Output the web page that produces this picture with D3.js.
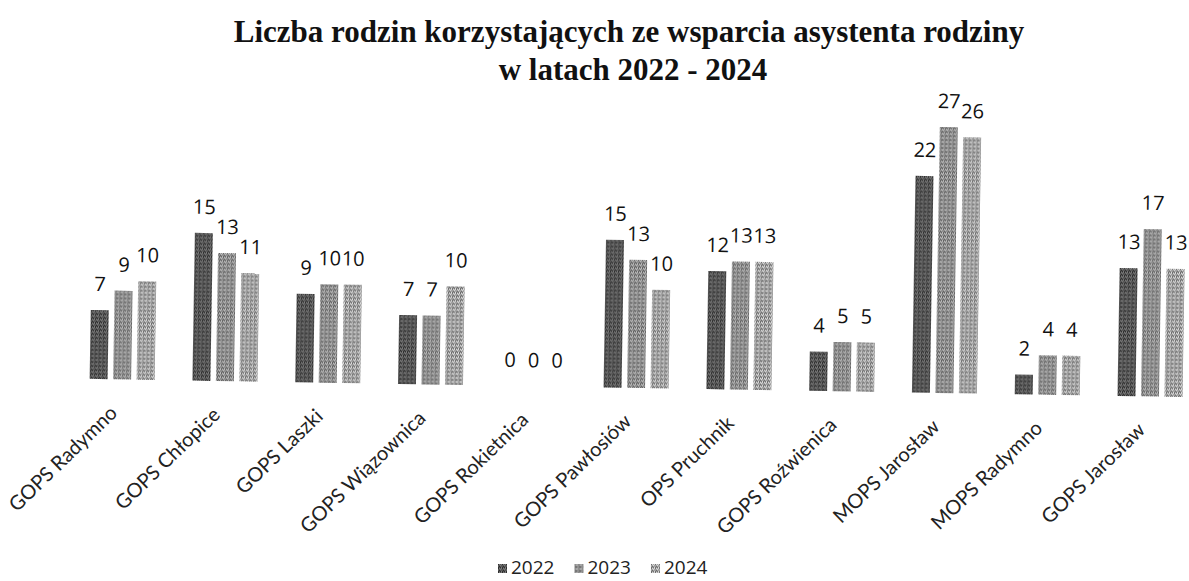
<!DOCTYPE html>
<html>
<head>
<meta charset="utf-8">
<script src="https://cdn.jsdelivr.net/npm/d3@7"></script>
<style>
  html, body { margin: 0; padding: 0; background: #fff; }
  svg { display: block; }
</style>
</head>
<body>
<svg id="chart" width="1189" height="581"></svg>
<script>
// ---- data ----
const categories = ["GOPS Radymno", "GOPS Chłopice", "GOPS Laszki", "GOPS Wiązownica", "GOPS Rokietnica",
  "GOPS Pawłosiów", "OPS Pruchnik", "GOPS Roźwienica", "MOPS Jarosław", "MOPS Radymno", "GOPS Jarosław"];
const seriesNames = ["2022", "2023", "2024"];
const values2022 = [7, 15, 9, 7, 0, 15, 12, 4, 22, 2, 13];
const values2023 = [9, 13, 10, 7, 0, 13, 13, 5, 27, 4, 17];
const values2024 = [10, 11, 10, 10, 0, 10, 13, 5, 26, 4, 13];
const titleLines = ["Liczba rodzin korzystających ze wsparcia asystenta rodziny", "w latach 2022 - 2024"];

const seriesValues = [values2022, values2023, values2024];
const W = 1189, H = 581;
const svg = d3.select("#chart");
svg.append("rect").attr("width", W).attr("height", H).attr("fill", "#fff");

// dithered-looking fills
const defs = svg.append("defs");
const patternSpecs = [
  { id: "p2022", base: "#575757", dark: "#2e2e2e", light: "#7a7a7a" },
  { id: "p2023", base: "#8e8e8e", dark: "#606060", light: "#bdbdbd" },
  { id: "p2024", base: "#a0a0a0", dark: "#6a6a6a", light: "#dcdcdc" }
];
const dots = [[0,0,"dark"],[2,1,"light"],[1,2,"dark"],[3,3,"light"],[3,0,"light"],[0,3,"dark"],[2,3,"dark"],[1,0,"light"]];
patternSpecs.forEach(p => {
  const pat = defs.append("pattern").attr("id", p.id).attr("patternUnits", "userSpaceOnUse")
    .attr("width", 4).attr("height", 4);
  pat.append("rect").attr("width", 4).attr("height", 4).attr("fill", p.base);
  dots.forEach(d => pat.append("rect").attr("x", d[0]).attr("y", d[1]).attr("width", 1).attr("height", 1)
    .attr("fill", p[d[2]]));
});
const fills = d3.scaleOrdinal().domain(seriesNames).range(patternSpecs.map(p => `url(#${p.id})`));

// ---- title ----
const title = svg.append("g").attr("font-family", "Liberation Serif, Times New Roman, serif")
  .attr("font-weight", "bold").attr("font-size", 31).attr("fill", "#111").attr("text-anchor", "middle");
title.append("text").attr("x", 629).attr("y", 42).text(titleLines[0]);
title.append("text").attr("x", 633).attr("y", 80).text(titleLines[1]);

// ---- plot (slightly rotated like the scanned original) ----
const plot = svg.append("g").attr("transform", "rotate(0.95, 640, 390)");
const baseY = 388;
const x0 = d3.scaleBand().domain(categories).range([70.6, 1201.4]).padding(0);
const x1 = d3.scaleBand().domain(seriesNames).range([-32.5, 32.5]).paddingInner(0.234).paddingOuter(0);
const y = d3.scaleLinear().domain([0, 30]).range([baseY, baseY - 295.5]);

const groups = plot.selectAll("g.grp").data(categories).join("g").attr("class", "grp")
  .attr("transform", d => `translate(${x0(d) + x0.bandwidth() / 2},0)`);

groups.each(function(cat, ci) {
  const g = d3.select(this);
  seriesNames.forEach((s, si) => {
    const v = seriesValues[si][ci];
    if (v > 0) {
      g.append("rect").attr("x", x1(s)).attr("y", y(v)).attr("width", x1.bandwidth())
        .attr("height", y(0) - y(v)).attr("fill", fills(s));
    }
    g.append("text").attr("x", x1(s) + x1.bandwidth() / 2).attr("y", y(v) - 19)
      .attr("text-anchor", "middle").attr("font-family", "Open Sans, sans-serif").attr("font-size", 20)
      .attr("fill", "#111").text(v);
  });
});

// category axis (no line)
const xAxis = d3.axisBottom(x0).tickSize(0).tickPadding(0);
const axisG = plot.append("g").attr("transform", `translate(0,${baseY})`).call(xAxis);
axisG.select(".domain").remove();
axisG.selectAll(".tick text")
  .attr("font-family", "Lato, sans-serif").attr("font-size", 20).attr("fill", "#222")
  .attr("text-anchor", "end").attr("dy", 0).attr("y", 0)
  .attr("transform", "translate(-3,35) rotate(-45)");

// ---- legend ----
const legend = svg.append("g").attr("font-family", "Open Sans, sans-serif").attr("font-size", 19).attr("fill", "#222");
let lx = 498;
seriesNames.forEach(s => {
  const item = legend.append("g").attr("transform", `translate(${lx},0)`);
  item.append("rect").attr("x", 0).attr("y", 564).attr("width", 9).attr("height", 9).attr("fill", fills(s));
  const t = item.append("text").attr("x", 13).attr("y", 574).text(s);
  lx += 13 + t.node().getComputedTextLength() + 20;
});
</script>
</body>
</html>
